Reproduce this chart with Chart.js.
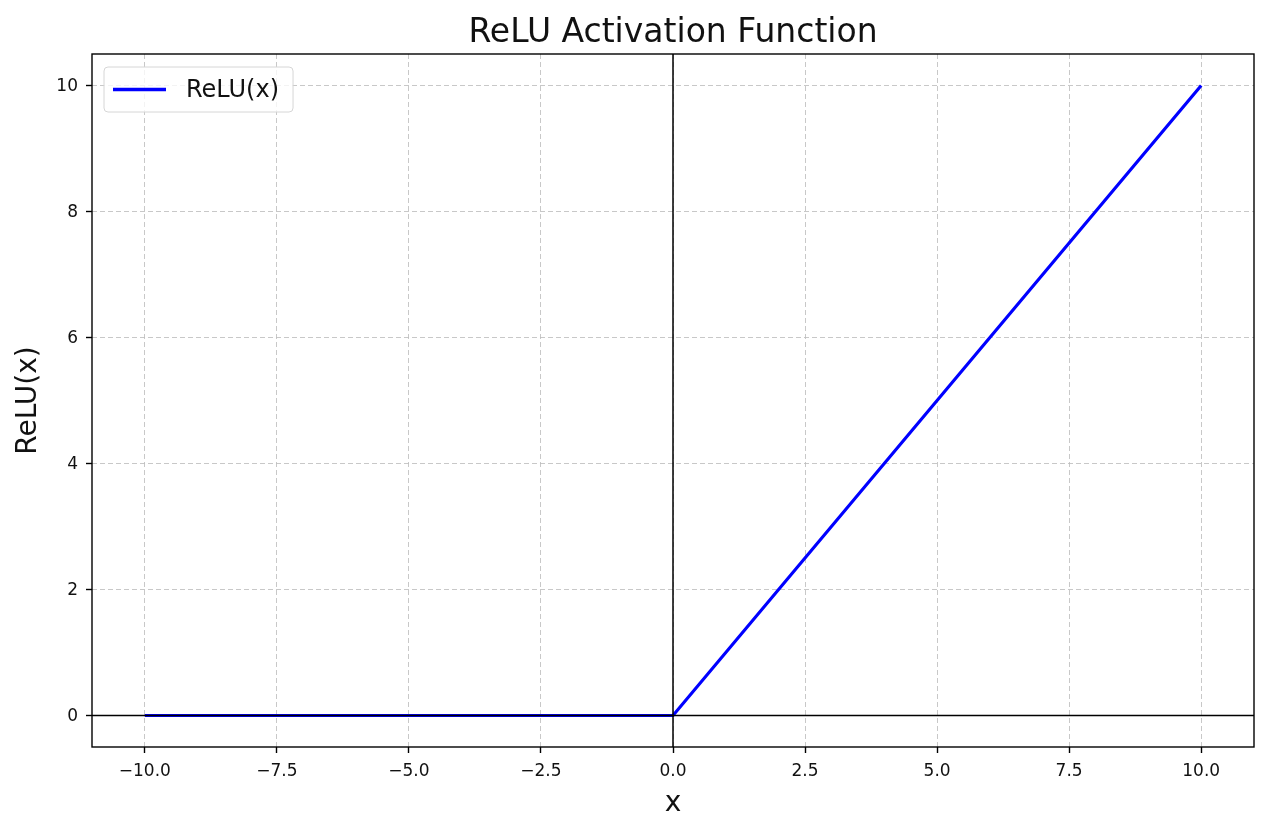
<!DOCTYPE html>
<html>
<head>
<meta charset="utf-8">
<script src="https://cdn.jsdelivr.net/npm/chart.js@4.4.1/dist/chart.umd.min.js"></script>
<style>
  html, body { margin: 0; padding: 0; background: #fff; }
  #wrap { width: 1284px; height: 832px; }
</style>
</head>
<body>
<div id="wrap"><canvas id="graph" width="1284" height="832"></canvas></div>
<script>
// values
const xValues = [-10, 0, 10];
const reluValues = [0, 0, 10];
const xTicks = [-10, -7.5, -5, -2.5, 0, 2.5, 5, 7.5, 10];
const yTicks = [0, 2, 4, 6, 8, 10];
const chartTitle = 'ReLU Activation Function';

const FONT = 'DejaVu Sans';
const minus = s => s.replace('-', '\u2212');

// zero lines, axes frame, title over the axes and the legend in the upper left
const decorations = {
  id: 'decorations',
  afterDatasetsDraw(chart) {
    const {ctx, chartArea: a, scales: {x, y}} = chart;
    ctx.save();
    ctx.strokeStyle = '#000';
    ctx.lineWidth = 1.5;
    const y0 = y.getPixelForValue(0);
    const x0 = x.getPixelForValue(0);
    ctx.beginPath();
    ctx.moveTo(a.left, y0); ctx.lineTo(a.right, y0);
    ctx.moveTo(x0, a.top); ctx.lineTo(x0, a.bottom);
    ctx.stroke();
    ctx.restore();
  },
  afterDraw(chart) {
    const {ctx, chartArea: a} = chart;
    ctx.save();
    ctx.strokeStyle = '#000';
    ctx.lineWidth = 1.4;
    ctx.strokeRect(a.left, a.top, a.right - a.left, a.bottom - a.top);

    // title, centred on the axes like matplotlib does
    ctx.fillStyle = '#111';
    ctx.font = '33px "' + FONT + '"';
    ctx.textAlign = 'center';
    ctx.textBaseline = 'alphabetic';
    ctx.fillText(chartTitle, (a.left + a.right) / 2, a.top - 12);

    const ds = chart.data.datasets[0];
    ctx.font = '24px "' + FONT + '"';
    ctx.textAlign = 'left';
    const tw = ctx.measureText(ds.label).width;
    const bx = a.left + 12, by = a.top + 13;
    const bw = 82 + tw + 14, bh = 45;
    ctx.beginPath();
    ctx.roundRect(bx, by, bw, bh, 4);
    ctx.fillStyle = 'rgba(255,255,255,0.8)';
    ctx.fill();
    ctx.strokeStyle = '#d6d6d6';
    ctx.lineWidth = 1;
    ctx.stroke();

    ctx.strokeStyle = ds.borderColor;
    ctx.lineWidth = 3.6;
    ctx.beginPath();
    ctx.moveTo(bx + 9, by + bh / 2);
    ctx.lineTo(bx + 62, by + bh / 2);
    ctx.stroke();

    ctx.fillStyle = '#111';
    ctx.textBaseline = 'middle';
    ctx.fillText(ds.label, bx + 82, by + bh / 2 + 1);
    ctx.restore();
  }
};

const grid = {
  color: 'rgba(190,190,190,0.85)',
  lineWidth: 1,
  drawTicks: true,
  tickLength: 6,
  tickColor: '#000',
  tickWidth: 1.4,
  tickBorderDash: []
};
// in v4 the grid line dash lives under border
const border = { display: false, dash: [5, 3] };

new Chart(document.getElementById('graph'), {
  type: 'line',
  data: {
    datasets: [{
      label: 'ReLU(x)',
      data: xValues.map((v, i) => ({x: v, y: reluValues[i]})),
      borderColor: '#0000ff',
      borderWidth: 3.2,
      pointRadius: 0,
      tension: 0,
      fill: false
    }]
  },
  options: {
    responsive: false,
    animation: false,
    devicePixelRatio: 1,
    layout: { padding: { left: 0, right: 30, top: 54, bottom: 0 } },
    plugins: {
      legend: { display: false },
      tooltip: { enabled: false },
      title: { display: false }
    },
    scales: {
      x: {
        type: 'linear',
        min: -11,
        max: 11,
        grid: grid,
        border: border,
        afterBuildTicks: s => { s.ticks = xTicks.map(v => ({value: v})); },
        afterFit: s => { s.height = 85; },
        ticks: {
          color: '#111',
          padding: 8,
          maxRotation: 0,
          font: { family: FONT, size: 17 },
          callback: v => minus(Number(v).toFixed(1))
        },
        title: {
          display: true,
          text: 'x',
          color: '#111',
          font: { family: FONT, size: 28 },
          padding: { top: 0, bottom: 11 }
        }
      },
      y: {
        type: 'linear',
        min: -0.5,
        max: 10.5,
        grid: grid,
        border: border,
        afterBuildTicks: s => { s.ticks = yTicks.map(v => ({value: v})); },
        afterFit: s => { s.width = 92; },
        ticks: {
          color: '#111',
          padding: 8,
          labelOffset: 1,
          font: { family: FONT, size: 17 },
          callback: v => minus(String(v))
        },
        title: {
          display: true,
          text: 'ReLU(x)',
          color: '#111',
          font: { family: FONT, size: 28 },
          padding: { top: 12, bottom: 0 }
        }
      }
    }
  },
  plugins: [decorations]
});
</script>
</body>
</html>
